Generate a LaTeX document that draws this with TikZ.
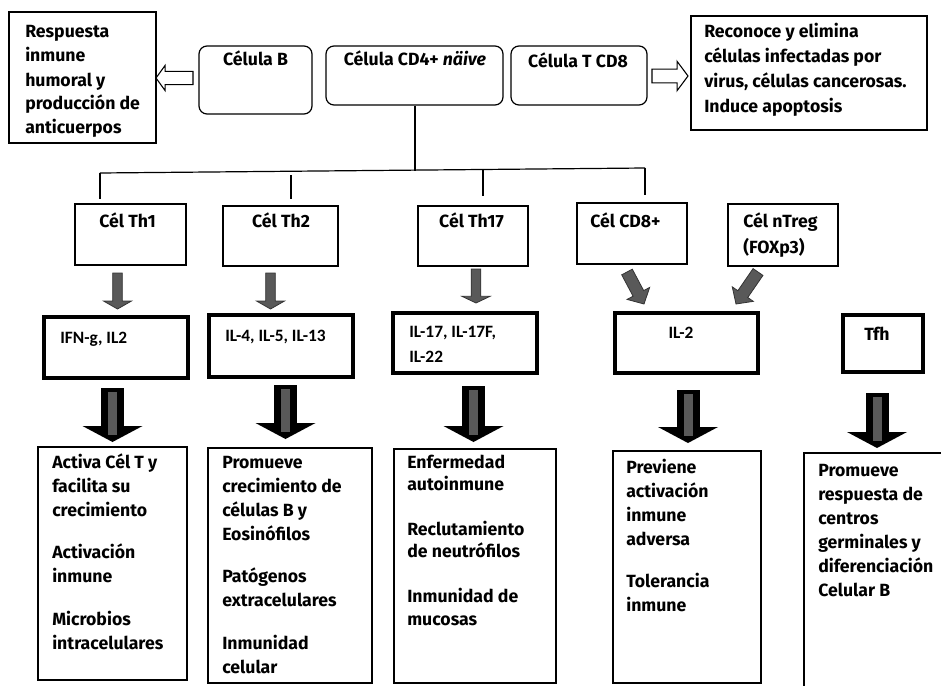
\documentclass[tikz,border=0pt]{standalone}
\usepackage{fontspec}
\setmainfont{Fira Sans}
\newfontfamily\calfont{Carlito}
\usetikzlibrary{fit,calc}
\newcommand{\lines}[1]{\begin{tabular}[t]{@{}l@{}}#1\end{tabular}}
\newcommand{\blockarr}[6]{%
  \coordinate (ba-c) at ($(#3)!#6!(#2)$);
  \draw[#1] ($(#2)!#4!90:(#3)$) -- ($(ba-c)!#4!90:(#3)$) -- ($(ba-c)!#5!90:(#3)$) -- (#3)
    -- ($(ba-c)!#5!-90:(#3)$) -- ($(ba-c)!#4!-90:(#3)$) -- ($(#2)!#4!-90:(#3)$) -- cycle;}
\newcommand{\bigarr}[4]{% name, x, ytop, ytip
  \coordinate (#1-t) at (#2,#3);
  \coordinate (#1-h) at (#2,#4);
  \fill[black] (#2-11.5,#3) rectangle (#2+11.5,#4-16);
  \fill[black] (#2-30,#4-16) -- (#2+30,#4-16) -- (#1-h) -- cycle;
  \fill[arrgray] (#2-4.5,#3+4) rectangle (#2+4.5,#4-7);}
\definecolor{arrgray}{HTML}{595959}
\begin{document}
\begin{tikzpicture}[x=0.75pt,y=-0.75pt,
  thinbox/.style={draw, inner sep=0pt, line width=0.9pt},
  midbox/.style={draw, inner sep=0pt, line width=1.4pt},
  thickbox/.style={draw, inner sep=0pt, line width=2.3pt},
  roundbox/.style={draw, inner sep=0pt, line width=0.9pt, rounded corners=6pt},
  txt/.style={inner sep=0pt, font=\bfseries\fontsize{13.25}{18}\selectfont},
  iltxt/.style={inner sep=0pt, font=\calfont\bfseries\fontsize{13}{18.75}\selectfont},
  openarr/.style={draw, line width=0.8pt, fill=white},
  smallarr/.style={draw=black!80, line width=0.6pt, fill=arrgray},
  conn/.style={draw, line width=0.9pt}]
\useasboundingbox (0,0) rectangle (941,685);

% top row
\node[midbox, fit={(9,12) (156,143)}] (resp) {};
\node[txt, anchor=base west] (resp-t) at (25,38) {\lines{Respuesta\\inmune\\humoral y\\producción de\\anticuerpos}};
\node[roundbox, fit={(199,46) (312,114)}] (celb) {};
\node[txt, anchor=base] (celb-t) at (255.5,65) {Célula B};
\node[roundbox, fit={(326,46) (503,105)}] (cd4) {};
\node[txt, anchor=base] (cd4-t) at (415,65) {Célula CD4+ \textit{näive}};
\node[roundbox, fit={(511,46) (647,105)}] (tcd8) {};
\node[txt, anchor=base] (tcd8-t) at (578,68) {Célula T CD8};
\node[midbox, fit={(691,16) (927,130)}] (recon) {};
\node[txt, anchor=base west, font=\bfseries\fontsize{13.25}{18.5}\selectfont] (recon-t) at (704,38) {\lines{Reconoce y elimina\\células infectadas por\\virus, células cancerosas.\\Induce apoptosis}};

% open arrows
\coordinate (la-tail) at (193,78);
\coordinate (la-tip) at (156,78);
\blockarr{openarr}{la-tail}{la-tip}{4.9pt}{9.4pt}{6.8pt}
\coordinate (ra-tail) at (652,76);
\coordinate (ra-tip) at (688,76);
\blockarr{openarr}{ra-tail}{ra-tip}{5.2pt}{11pt}{8.2pt}

% tree connector
\coordinate (j0) at (415,170.5);
\coordinate (jl) at (100,173);
\coordinate (jr) at (645,168);
\draw[conn] (cd4.south -| j0) -- (j0);
\draw[conn] (jl) -- (jr);
\coordinate (d1) at (100,199);
\coordinate (d2a) at (291,175); \coordinate (d2) at (291,199);
\coordinate (d3a) at (483,170); \coordinate (d3) at (483,196);
\coordinate (d4) at (645,195);
\draw[conn] (jl) -- (d1);
\draw[conn] (d2a) -- (d2);
\draw[conn] (d3a) -- (d3);
\draw[conn] (jr) -- (d4);

% second row
\node[thinbox, fit={(75,204) (186,265)}] (th1) {};
\node[txt, anchor=base] (th1-t) at (127.5,227) {Cél Th1};
\node[thinbox, fit={(223,206) (338,266)}] (th2) {};
\node[txt, anchor=base] (th2-t) at (281,227) {Cél Th2};
\node[thinbox, fit={(418,206) (528,266)}] (th17) {};
\node[txt, anchor=base] (th17-t) at (471.5,227) {Cél Th17};
\node[thinbox, fit={(577,203) (687,264)}] (cd8p) {};
\node[txt, anchor=base west] (cd8p-t) at (590,227) {Cél CD8+};
\node[thinbox, fit={(728,204) (838,266)}] (treg) {};
\node[txt, anchor=base west, font=\bfseries\fontsize{13.25}{19.5}\selectfont] (treg-t) at (743,227) {\lines{Cél nTreg\\(FOXp3)}};

% small arrows
\coordinate (s1a) at (117.5,273); \coordinate (s1b) at (117.5,309);
\blockarr{smallarr}{s1a}{s1b}{3.6pt}{10.5pt}{6pt}
\coordinate (s2a) at (270.5,273); \coordinate (s2b) at (270.5,309);
\blockarr{smallarr}{s2a}{s2b}{3.6pt}{10.5pt}{6pt}
\coordinate (s3a) at (476,269); \coordinate (s3b) at (476,303);
\blockarr{smallarr}{s3a}{s3b}{3.6pt}{10.5pt}{5pt}
\coordinate (s4a) at (627,272); \coordinate (s4b) at (644,304);
\blockarr{smallarr}{s4a}{s4b}{4.5pt}{9.6pt}{9pt}
\coordinate (s5a) at (758,272); \coordinate (s5b) at (736,304);
\blockarr{smallarr}{s5a}{s5b}{4.5pt}{9.6pt}{9pt}

% third row
\node[thickbox, fit={(44,317) (188,378)}] (ifn) {};
\node[iltxt, anchor=base west] (ifn-t) at (60,343) {IFN-g, IL2};
\node[thickbox, fit={(209,315) (353,377)}] (il4) {};
\node[iltxt, anchor=base west] (il4-t) at (225,341) {IL-4, IL-5, IL-13};
\node[thickbox, fit={(393,313) (537,373)}] (il17) {};
\node[iltxt, anchor=base west] (il17-t) at (409,337) {\lines{IL-17, IL-17F,\\IL-22}};
\node[thickbox, fit={(615,313) (758,373)}] (il2) {};
\node[iltxt, anchor=base] (il2-t) at (681,338) {IL-2};
\node[thickbox, fit={(843,315) (923,372)}] (tfh) {};
\node[txt, anchor=base] (tfh-t) at (877,340) {Tfh};

% big arrows
\bigarr{b1}{112.5}{388}{442}
\bigarr{b2}{285.5}{385}{439}
\bigarr{b3}{473.5}{386}{442}
\bigarr{b4}{688}{390}{443}
\bigarr{b5}{877}{393}{448}

% bottom boxes
\node[thinbox, fit={(38,447) (187,680)}] (out1) {};
\node[txt, anchor=base west] (out1-t) at (52,468) {\lines{Activa Cél T y\\facilita su\\crecimiento\\[14pt]Activación\\inmune\\[14pt]Microbios\\intracelulares}};
\node[thinbox, fit={(208,448) (372,683)}] (out2) {};
\node[txt, anchor=base west] (out2-t) at (222,468) {\lines{Promueve\\crecimiento de\\células B y\\Eosinófilos\\[14pt]Patógenos\\extracelulares\\[14pt]Inmunidad\\celular}};
\node[thinbox, fit={(394,449) (556,683)}] (out3) {};
\node[txt, anchor=base west, font=\bfseries\fontsize{13.25}{16.8}\selectfont] (out3-t) at (407,468) {\lines{Enfermedad\\autoinmune\\[17pt]Reclutamiento\\de neutrófilos\\[17pt]Inmunidad de\\mucosas}};
\node[thinbox, fit={(613,451) (761,683)}] (out4) {};
\node[txt, anchor=base west] (out4-t) at (626,473) {\lines{Previene\\activación\\inmune\\adversa\\[13.5pt]Tolerancia\\inmune}};
\node[thinbox, fit={(804,453) (945,690)}] (out5) {};
\node[txt, anchor=base west] (out5-t) at (818,476) {\lines{Promueve\\respuesta de\\centros\\germinales y\\diferenciación\\Celular B}};
\end{tikzpicture}
\end{document}
